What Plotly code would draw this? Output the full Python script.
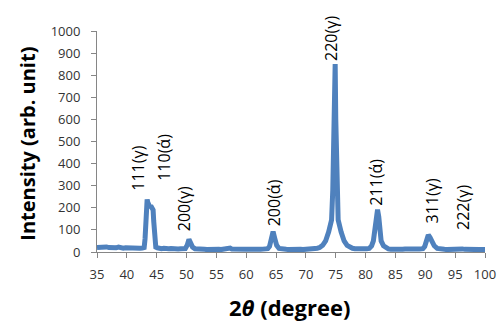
import plotly.graph_objects as go

# 2-theta (degree) and intensity (arb. unit)
two_theta = [35.0, 35.4, 35.8, 36.2, 36.6, 37.0, 37.4, 37.8, 38.2, 38.6, 39.0, 39.4, 39.8, 40.2, 40.6,
             41.0, 41.4, 41.8, 42.2, 42.6, 42.9, 43.05, 43.15, 43.25, 43.4, 43.5, 43.6, 43.7, 43.8, 43.9,
             44.0, 44.1, 44.2, 44.3, 44.4, 44.5, 44.6, 44.7, 44.85, 45.1, 45.4, 45.8, 46.2, 46.6, 47.0,
             47.4, 47.8, 48.2, 48.6, 49.0, 49.4, 49.8, 50.1, 50.4, 50.7, 51.0, 51.4, 51.8, 52.2, 52.6,
             53.0, 53.4, 53.8, 54.2, 54.6, 55.0, 55.4, 55.8, 56.2, 56.6, 57.0, 57.3, 57.6, 58.0, 58.4,
             58.8, 59.2, 59.6, 60.0, 60.4, 60.8, 61.2, 61.6, 62.0, 62.4, 62.8, 63.2, 63.6, 63.9, 64.2,
             64.5, 64.8, 65.1, 65.5, 65.9, 66.3, 66.7, 67.1, 67.5, 67.9, 68.3, 68.7, 69.1, 69.5, 69.9,
             70.3, 70.7, 71.1, 71.5, 71.9, 72.3, 72.8, 73.3, 73.8, 74.3, 74.5, 74.65, 74.8, 74.9, 75.0,
             75.1, 75.2, 75.4, 75.9, 76.4, 76.9, 77.4, 77.8, 78.2, 78.6, 79.0, 79.4, 79.8, 80.2, 80.6,
             81.0, 81.3, 81.6, 81.8, 82.0, 82.2, 82.35, 82.6, 83.0, 83.4, 83.8, 84.2, 84.6, 85.0, 85.4,
             85.8, 86.2, 86.6, 87.0, 87.4, 87.8, 88.2, 88.6, 89.0, 89.3, 89.6, 89.9, 90.2, 90.5, 90.8,
             91.1, 91.5, 92.0, 92.4, 92.8, 93.2, 93.6, 94.0, 94.4, 94.8, 95.2, 95.6, 95.9, 96.2, 96.6,
             97.0, 97.4, 97.8, 98.2, 98.6, 99.0, 99.4, 99.8, 100.0]
intensity = [20, 22, 19, 21, 23, 20, 18, 21, 19, 22, 18, 17, 19, 18, 16,
             18, 17, 16, 17, 18, 20, 60, 130, 200, 238, 225, 215, 205, 215, 200,
             210, 205, 200, 205, 190, 140, 70, 35, 22, 19, 16, 15, 17, 14, 15,
             16, 14, 15, 14, 15, 15, 16, 30, 57, 40, 22, 15, 13, 12, 13,
             12, 11, 12, 12, 11, 12, 12, 11, 12, 12, 13, 18, 13, 12, 11,
             12, 12, 11, 12, 12, 11, 12, 12, 13, 12, 13, 14, 15, 25, 55,
             92, 60, 30, 16, 13, 12, 12, 11, 12, 12, 11, 12, 12, 11, 13,
             12, 13, 14, 16, 17, 20, 30, 50, 90, 145, 280, 550, 840, 850, 600,
             400, 280, 145, 90, 50, 30, 20, 17, 15, 14, 16, 14, 15, 15, 16,
             28, 50, 100, 160, 192, 160, 100, 50, 28, 17, 14, 13, 12, 13, 12,
             12, 13, 14, 13, 12, 13, 13, 14, 14, 15, 15, 25, 50, 77, 65,
             45, 28, 16, 13, 12, 12, 11, 12, 11, 12, 13, 17, 18, 14, 12,
             11, 12, 11, 11, 12, 11, 11, 11, 11]

peak_labels = ["111(γ)", "110(ά)", "200(γ)", "200(ά)", "220(γ)", "211(ά)", "311(γ)", "222(γ)"]
label_x = [41.9, 46.1, 49.7, 64.8, 74.1, 81.6, 91.1, 96.2]
label_y = [267, 312, 86, 109, 855, 199, 122, 90]

x_ticks = list(range(35, 101, 5))
y_ticks = list(range(0, 1001, 100))

fig = go.Figure()
fig.add_trace(go.Scatter(x=two_theta, y=intensity, mode="lines",
                         line=dict(color="#4F81BD", width=5), showlegend=False))

for t, lx, ly in zip(peak_labels, label_x, label_y):
    fig.add_annotation(x=lx, y=ly, xref="x", yref="y", text=t, textangle=-90,
                       showarrow=False, xanchor="center", yanchor="bottom",
                       font=dict(family="Open Sans", size=16, color="#000000"))

fig.add_annotation(xref="paper", yref="paper", x=-0.178, y=0.49, text="<b>Intensity (arb. unit)</b>",
                   textangle=-90, showarrow=False, xanchor="center", yanchor="middle",
                   font=dict(family="Open Sans", size=20, color="#000000"))
fig.add_annotation(xref="paper", yref="paper", x=0.497, y=-0.249, text="<b>2<i>θ</i> (degree)</b>",
                   showarrow=False, xanchor="center", yanchor="middle",
                   font=dict(family="Open Sans", size=22, color="#000000"))

axis_common = dict(showgrid=False, zeroline=False, showline=True, linecolor="#868686", linewidth=1,
                   ticks="outside", ticklen=5, tickcolor="#868686", tickwidth=1, automargin=False,
                   tickfont=dict(family="Open Sans", size=13, color="#333333"))
fig.update_xaxes(range=[35, 100], tickvals=x_ticks, ticktext=[str(v) for v in x_ticks],
                 ticklabelstandoff=5, **axis_common)
fig.update_yaxes(range=[0, 1000], tickvals=y_ticks, ticktext=[str(v) for v in y_ticks],
                 ticklabelstandoff=8, **axis_common)

fig.update_layout(width=497, height=322, margin=dict(l=97, r=12, t=31, b=70),
                  plot_bgcolor="white", paper_bgcolor="white")
fig.write_html("out.html", config={"displayModeBar": False},
               post_script="document.body.style.margin='0';document.body.style.overflow='hidden';")
